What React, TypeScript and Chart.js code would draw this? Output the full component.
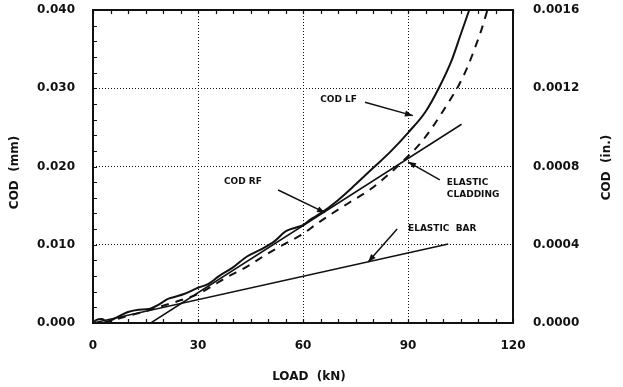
import React, { useEffect, useRef } from "react";
import { Chart, registerables } from "chart.js";

Chart.register(...registerables);

// ---- data ----
const LF_LOAD = [0, 1, 2.5, 4, 5, 8, 10, 13, 16, 19, 21, 23, 26, 30, 33, 36, 40, 44, 48, 52, 55, 58, 60, 62, 65, 70, 75, 80, 85, 90, 95, 99, 102.5, 105, 107.5];
const LF_COD = [0, 0.0004, 0.0005, 0.0002, 0.0003, 0.001, 0.0014, 0.0017, 0.0018, 0.0024, 0.003, 0.0033, 0.0037, 0.0045, 0.005, 0.006, 0.0071, 0.0085, 0.0094, 0.0105, 0.0117, 0.0122, 0.0125, 0.0132, 0.014, 0.0157, 0.0177, 0.0198, 0.0219, 0.0243, 0.0270, 0.0302, 0.0336, 0.0368, 0.04];

const RF_LOAD = [3, 6, 10, 15, 20, 25, 30, 34, 38, 44, 50, 56, 60, 64, 68, 74, 79, 85, 90, 93.4, 96.8, 99.6, 102, 104.4, 106.8, 109, 111, 112.7];
const RF_COD = [0, 0.0004, 0.0009, 0.0015, 0.0022, 0.0029, 0.0037, 0.0047, 0.0058, 0.0072, 0.0089, 0.0104, 0.0114, 0.0127, 0.0139, 0.0156, 0.017, 0.0192, 0.0213, 0.0229, 0.0249, 0.0268, 0.0285, 0.0303, 0.0325, 0.035, 0.0375, 0.04];

const CLAD_LOAD = [16.5, 105.3];
const CLAD_COD = [0, 0.0254];

const BAR_LOAD = [0, 101.5];
const BAR_COD = [0, 0.0101];

const X_TICKS = [0, 30, 60, 90, 120];
const Y_TICKS_MM = [0, 0.01, 0.02, 0.03, 0.04];
const Y_TICKS_IN = [0, 0.0004, 0.0008, 0.0012, 0.0016];

const NOTES = [
  { lines: ["COD LF"], at: [64.9, 0.0285], from: [77.7, 0.0282], to: [91.4, 0.0265] },
  { lines: ["COD RF"], at: [37.4, 0.018], from: [52.9, 0.017], to: [66.3, 0.0141] },
  { lines: ["ELASTIC", "CLADDING"], at: [101.1, 0.0179], from: [99.1, 0.0183], to: [90, 0.0206] },
  { lines: ["ELASTIC  BAR"], at: [90, 0.0121], from: [86.9, 0.012], to: [78.6, 0.0078] },
];

const INK = "#111";
const FONT = "'DejaVu Sans', sans-serif";

const toPts = (xs: number[], ys: number[]) => xs.map((x, i) => ({ x, y: ys[i] }));

const decor = {
  id: "decor",
  afterDraw(chart: any) {
    const { ctx, chartArea: a, scales } = chart;
    const sx = scales.x;
    const sy = scales.y;
    ctx.save();
    ctx.strokeStyle = INK;
    ctx.fillStyle = INK;
    // minor ticks
    ctx.lineWidth = 1.2;
    ctx.beginPath();
    for (let v = 0; v <= 120; v += 5) {
      const px = Math.round(sx.getPixelForValue(v)) + 0.5;
      ctx.moveTo(px, a.bottom);
      ctx.lineTo(px, a.bottom - 4);
      ctx.moveTo(px, a.top);
      ctx.lineTo(px, a.top + 4);
    }
    for (let i = 0; i <= 20; i++) {
      const py = Math.round(sy.getPixelForValue(i * 0.002)) + 0.5;
      ctx.moveTo(a.left, py);
      ctx.lineTo(a.left + 4, py);
    }
    ctx.stroke();
    // frame
    ctx.lineWidth = 2;
    ctx.strokeRect(a.left, a.top, a.right - a.left, a.bottom - a.top);
    // annotations
    ctx.font = `bold 9px ${FONT}`;
    ctx.textAlign = "left";
    ctx.textBaseline = "middle";
    NOTES.forEach((n) => {
      const tx = sx.getPixelForValue(n.at[0]);
      const ty = sy.getPixelForValue(n.at[1]);
      n.lines.forEach((l, i) => ctx.fillText(l, tx, ty + i * 12));
      const x1 = sx.getPixelForValue(n.from[0]);
      const y1 = sy.getPixelForValue(n.from[1]);
      const x2 = sx.getPixelForValue(n.to[0]);
      const y2 = sy.getPixelForValue(n.to[1]);
      ctx.lineWidth = 1.5;
      ctx.beginPath();
      ctx.moveTo(x1, y1);
      ctx.lineTo(x2, y2);
      ctx.stroke();
      const ang = Math.atan2(y2 - y1, x2 - x1);
      const hl = 8, hw = 3;
      ctx.beginPath();
      ctx.moveTo(x2, y2);
      ctx.lineTo(x2 - hl * Math.cos(ang) + hw * Math.sin(ang), y2 - hl * Math.sin(ang) - hw * Math.cos(ang));
      ctx.lineTo(x2 - hl * Math.cos(ang) - hw * Math.sin(ang), y2 - hl * Math.sin(ang) + hw * Math.cos(ang));
      ctx.closePath();
      ctx.fill();
    });
    // axis titles
    ctx.font = `bold 12px ${FONT}`;
    ctx.textAlign = "center";
    ctx.textBaseline = "middle";
    ctx.fillText("LOAD  (kN)", (a.left + a.right) / 2 + 6, 377);
    ctx.save();
    ctx.translate(15, (a.top + a.bottom) / 2 + 6);
    ctx.rotate(-Math.PI / 2);
    ctx.fillText("COD  (mm)", 0, 0);
    ctx.restore();
    ctx.save();
    ctx.translate(607, (a.top + a.bottom) / 2 + 1);
    ctx.rotate(-Math.PI / 2);
    ctx.fillText("COD  (in.)", 0, 0);
    ctx.restore();
    ctx.restore();
  },
};

export default function App() {
  const ref = useRef<HTMLCanvasElement>(null);
  useEffect(() => {
    document.body.style.margin = "0";
    const tickFont = { family: FONT, size: 12, weight: "bold" as const };
    const fitV = (w: number) => (s: any) => {
      s.width = w;
      s.paddingTop = 0;
      s.paddingBottom = 0;
    };
    const chart = new Chart(ref.current as HTMLCanvasElement, {
      type: "line",
      data: {
        datasets: [
          { label: "COD LF", data: toPts(LF_LOAD, LF_COD), borderColor: INK, borderWidth: 2, pointRadius: 0, cubicInterpolationMode: "monotone" },
          { label: "COD RF", data: toPts(RF_LOAD, RF_COD), borderColor: INK, borderWidth: 2, borderDash: [8, 7], pointRadius: 0, cubicInterpolationMode: "monotone" },
          { label: "ELASTIC CLADDING", data: toPts(CLAD_LOAD, CLAD_COD), borderColor: INK, borderWidth: 1.5, pointRadius: 0 },
          { label: "ELASTIC BAR", data: toPts(BAR_LOAD, BAR_COD), borderColor: INK, borderWidth: 1.5, pointRadius: 0 },
        ],
      },
      options: {
        animation: false,
        responsive: false,
        layout: { padding: { top: 10, left: 0, right: 0, bottom: 0 } },
        plugins: { legend: { display: false }, tooltip: { enabled: false } },
        scales: {
          x: {
            type: "linear",
            min: 0,
            max: 120,
            afterFit: (s: any) => { s.height = 64; s.paddingLeft = 0; s.paddingRight = 0; },
            afterBuildTicks: (s: any) => { s.ticks = X_TICKS.map((v) => ({ value: v })); },
            ticks: { color: INK, font: tickFont, padding: 16, maxRotation: 0, callback: (v: any) => String(v) },
            grid: { color: INK, lineWidth: 1, drawTicks: false },
            border: { display: false, dash: [1, 2] },
          },
          y: {
            type: "linear",
            position: "left",
            min: 0,
            max: 0.04,
            afterFit: fitV(93),
            afterBuildTicks: (s: any) => { s.ticks = Y_TICKS_MM.map((v) => ({ value: v })); },
            ticks: { color: INK, font: tickFont, padding: 18, callback: (v: any) => Number(v).toFixed(3) },
            grid: { color: INK, lineWidth: 1, drawTicks: false },
            border: { display: false, dash: [1, 2] },
          },
          y2: {
            type: "linear",
            position: "right",
            min: 0,
            max: 0.0016,
            afterFit: fitV(110),
            afterBuildTicks: (s: any) => { s.ticks = Y_TICKS_IN.map((v) => ({ value: v })); },
            ticks: { color: INK, font: tickFont, padding: 20, callback: (v: any) => Number(v).toFixed(4) },
            grid: { display: false, drawTicks: false },
            border: { display: false },
          },
        },
      },
      plugins: [decor],
    } as any);
    return () => chart.destroy();
  }, []);
  return (
    <div style={{ width: 623, height: 387, background: "#fff" }}>
      <canvas ref={ref} width={623} height={387} style={{ display: "block" }} />
    </div>
  );
}
